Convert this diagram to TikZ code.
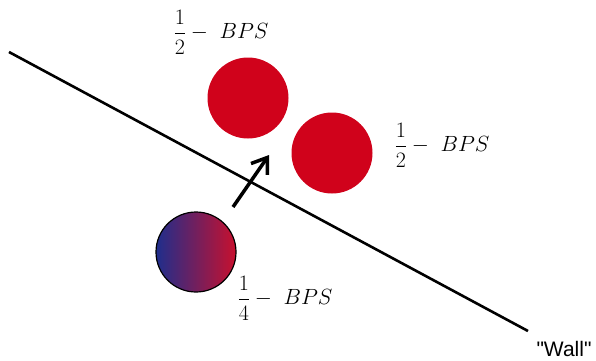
\RequirePackage{fix-cm}
\documentclass[tikz,border=0pt]{standalone}
\usepackage{amsmath,amssymb}
\usepackage{fontspec}
\newfontfamily\wallfont{Liberation Sans}
\usepackage{xcolor}
\usepackage{tikz}
\usetikzlibrary{calc,arrows.meta,positioning}
\definecolor{bpsred}{HTML}{D0021B}
\definecolor{mixblue}{HTML}{1F2E8C}
\definecolor{mixred}{HTML}{C8102E}
\tikzset{
  ar/.style={-{Straight Barb[length=5mm,width=7mm,line width=3.5pt]},line width=3.5pt,black},
  wall/.style={line width=2.6pt,black},
  half/.style={circle,fill=bpsred,minimum size=81pt,inner sep=0pt},
  quarter/.style={circle,draw=black,line width=1.2pt,left color=mixblue,right color=mixred,minimum size=80pt,inner sep=0pt},
  lbl/.style={font=\fontsize{22}{26}\selectfont,inner sep=0pt}
}
\begin{document}
\begin{tikzpicture}[x=1pt,y=-1pt]
\useasboundingbox (0,0) rectangle (596,360);
\coordinate (w1) at (9,52);
\coordinate (w2) at (528,331);
\draw[wall] (w1)--(w2);
\node[font=\wallfont\fontsize{21}{24}\selectfont,anchor=center] (wl) at (564,349) {"Wall"};
\node[half] (top) at (248,98) {};
\node[half] (right) at (332,153) {};
\node[quarter] (mix) at (196,252) {};
\node[lbl] (ltop) at (221,32) {$\dfrac{1}{2}-\ BPS$};
\node[lbl] (lright) at (442,145) {$\dfrac{1}{2}-\ BPS$};
\node[lbl] (lmix) at (285,298) {$\dfrac{1}{4}-\ BPS$};
\coordinate (a1) at (233,207);
\coordinate (a2) at (269,155);
\draw[ar] (a1)--(a2);
\end{tikzpicture}
\end{document}
